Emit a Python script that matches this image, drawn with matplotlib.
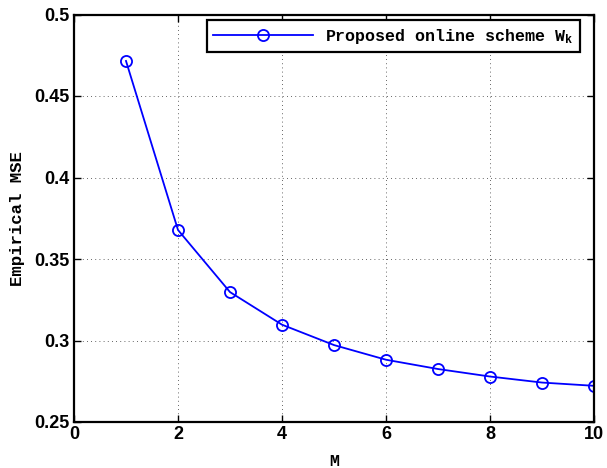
import matplotlib as mpl
mpl.use('Agg')
import matplotlib.pyplot as plt

M = [1, 2, 3, 4, 5, 6, 7, 8, 9, 10]
mse = [0.4715, 0.3678, 0.3297, 0.3097, 0.2972, 0.2882, 0.2825, 0.2779, 0.2742, 0.2722]
xticks = [0, 2, 4, 6, 8, 10]
yticks = [0.25, 0.3, 0.35, 0.4, 0.45, 0.5]

mpl.rcParams['mathtext.fontset'] = 'custom'
mpl.rcParams['mathtext.rm'] = 'Liberation Mono:bold'
mpl.rcParams['mathtext.it'] = 'Liberation Mono:bold'
mpl.rcParams['mathtext.default'] = 'rm'

fig = plt.figure(figsize=(6.07, 4.68), dpi=100)
ax = fig.add_axes([74/607, 1-422/468, 520/607, 407.5/468])

ax.plot(M, mse, '-o', color='#0000ff', lw=1.3, ms=8, mfc='none', mew=1.3,
        label=r'Proposed online scheme W$_k$')

ax.set_xlim(0, 10)
ax.set_ylim(0.25, 0.5)
ax.set_xticks(xticks)
ax.set_yticks(yticks)
ax.set_xticklabels([str(t) for t in xticks])
ax.set_yticklabels(['0.25', '0.3', '0.35', '0.4', '0.45', '0.5'])
for lab in ax.get_xticklabels() + ax.get_yticklabels():
    lab.set_fontfamily('Liberation Sans')
    lab.set_fontweight('bold')
    lab.set_fontsize(13)
ax.tick_params(direction='in', length=5, width=1, top=True, right=True, pad=3)
ax.grid(True, linestyle=(0, (1, 4)), color='#333333', lw=0.6)
for s in ax.spines.values():
    s.set_linewidth(1.6)

ax.set_xlabel('M', family='Liberation Mono', fontweight='bold', fontsize=12, labelpad=8)
ax.set_ylabel('Empirical MSE', family='Liberation Mono', fontweight='bold', fontsize=12.5, labelpad=7)

leg = ax.legend(loc='upper right', bbox_to_anchor=(0.973, 0.9865), borderaxespad=0,
                prop={'family': 'Liberation Mono', 'weight': 'bold', 'size': 12},
                handlelength=6.0, handletextpad=0.7, fancybox=False, framealpha=1)
leg.get_frame().set_edgecolor('black')
leg.get_frame().set_linewidth(1.6)

plt.savefig('out.png', dpi=100)
plt.close()
